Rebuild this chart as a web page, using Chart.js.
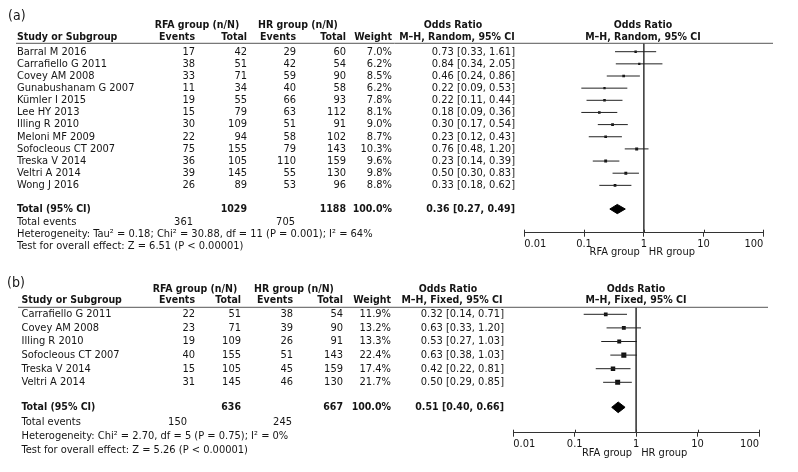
<!DOCTYPE html>
<html><head><meta charset="utf-8">
<script src="https://cdn.jsdelivr.net/npm/chart.js@4.4.1/dist/chart.umd.min.js"></script>
<style>
html,body{margin:0;padding:0;background:#fff;}
#wrap{position:relative;width:798px;height:472px;background:#fff;}
canvas{position:absolute;left:0;top:0;}
</style></head><body>
<div id="wrap"><canvas id="ca" width="798" height="472"></canvas><canvas id="cb" width="798" height="472"></canvas></div>
<script>
// ---------- DATA ----------
const tickVals = [0.01, 0.1, 1, 10, 100];
const tickLabels = ["0.01", "0.1", "1", "10", "100"];

// Panel (a)
const studiesA = ["Barral M 2016","Carrafiello G 2011","Covey AM 2008","Gunabushanam G 2007","Kümler I 2015","Lee HY 2013","Illing R 2010","Meloni MF 2009","Sofocleous CT 2007","Treska V 2014","Veltri A 2014","Wong J 2016"];
const rfaEventsA = [17,38,33,11,19,15,30,22,75,36,39,26];
const rfaTotalA  = [42,51,71,34,55,79,109,94,155,105,145,89];
const hrEventsA  = [29,42,59,40,66,63,51,58,79,110,55,53];
const hrTotalA   = [60,54,90,58,93,112,91,102,143,159,130,96];
const weightA    = [7.0,6.2,8.5,6.2,7.8,8.1,9.0,8.7,10.3,9.6,9.8,8.8];
const orA        = [0.73,0.84,0.46,0.22,0.22,0.18,0.30,0.23,0.76,0.23,0.50,0.33];
const loA        = [0.33,0.34,0.24,0.09,0.11,0.09,0.17,0.12,0.48,0.14,0.30,0.18];
const hiA        = [1.61,2.05,0.86,0.53,0.44,0.36,0.54,0.43,1.20,0.39,0.83,0.62];
const totalA     = {rfaN:1029, hrN:1188, rfaEv:361, hrEv:705, or:0.36, lo:0.27, hi:0.49};
const hetA  = "Heterogeneity: Tau² = 0.18; Chi² = 30.88, df = 11 (P = 0.001); I² = 64%";
const testA = "Test for overall effect: Z = 6.51 (P < 0.00001)";

// Panel (b)
const studiesB = ["Carrafiello G 2011","Covey AM 2008","Illing R 2010","Sofocleous CT 2007","Treska V 2014","Veltri A 2014"];
const rfaEventsB = [22,23,19,40,15,31];
const rfaTotalB  = [51,71,109,155,105,145];
const hrEventsB  = [38,39,26,51,45,46];
const hrTotalB   = [54,90,91,143,159,130];
const weightB    = [11.9,13.2,13.3,22.4,17.4,21.7];
const orB        = [0.32,0.63,0.53,0.63,0.42,0.50];
const loB        = [0.14,0.33,0.27,0.38,0.22,0.29];
const hiB        = [0.71,1.20,1.03,1.03,0.81,0.85];
const totalB     = {rfaN:636, hrN:667, rfaEv:150, hrEv:245, or:0.51, lo:0.40, hi:0.66};
const hetB  = "Heterogeneity: Chi² = 2.70, df = 5 (P = 0.75); I² = 0%";
const testB = "Test for overall effect: Z = 5.26 (P < 0.00001)";

// ---------- STYLE / LAYOUT ----------
const FONT = '"DejaVu Sans Condensed", "DejaVu Sans", sans-serif';
const FS = 11, FSB = 10.5;
const TEXT = '#151515';
const LINE = '#333';

const D_A = {studies:studiesA, rfaEv:rfaEventsA, rfaN:rfaTotalA, hrEv:hrEventsA, hrN:hrTotalA, w:weightA, or:orA, lo:loA, hi:hiA, tot:totalA, het:hetA, test:testA};
const D_B = {studies:studiesB, rfaEv:rfaEventsB, rfaN:rfaTotalB, hrEv:hrEventsB, hrN:hrTotalB, w:weightB, or:orB, lo:loB, hi:hiB, tot:totalB, het:hetB, test:testB};

const P_A = {tag:'(a)', tagX:8, tagY:16.5, h1Y:25, h2Y:37.7, lineY:43.3, axisY:232.7, plotL:524.3, plotR:763.3,
  row0:51.7, step:12.15, totalRow:12.95, nameX:17, colEv1:195, colTot1:247, colEv2:296, colTot2:346, colW:392, colOR:515,
  orHdr1X:453, orHdr2X:457, plotHdrX:643, lineL:16, lineR:773, rfaHdrX:197, hrHdrX:298, method:'Random',
  totEvRfaX:193, totEvHrX:295, dEv:12.7, dHet:24.7, dTest:36.7, groupLblY:251.7, sqK:0.92, diaH:0.38};
const P_B = {tag:'(b)', tagX:7, tagY:283, h1Y:289, h2Y:300.7, lineY:307.3, axisY:432.7, plotL:513.3, plotR:759,
  row0:314.3, step:13.6, totalRow:6.84, nameX:21.5, colEv1:195, colTot1:241, colEv2:293, colTot2:343, colW:391, colOR:504,
  orHdr1X:448, orHdr2X:452, plotHdrX:636, lineL:18, lineR:768, rfaHdrX:195, hrHdrX:294, method:'Fixed',
  totEvRfaX:187, totEvHrX:292, dEv:14.4, dHet:28.7, dTest:42.7, groupLblY:453, sqK:1.07, diaH:0.39};

function ci(o, l, h) { return o.toFixed(2) + ' [' + l.toFixed(2) + ', ' + h.toFixed(2) + ']'; }

function textPlugin(P, D) {
  return {
    id: 'txt' + P.method,
    afterDraw(chart) {
      const ctx = chart.ctx, ys = chart.scales.y, xs = chart.scales.x;
      ctx.save();
      ctx.fillStyle = TEXT;
      ctx.textBaseline = 'middle';
      const T = (s, px, py, al, bold, size) => {
        ctx.font = (bold ? 'bold ' : '') + (size || (bold ? FSB : FS)) + 'px ' + FONT;
        ctx.textAlign = al; ctx.fillText(String(s), px, py);
      };
      T(P.tag, P.tagX, P.tagY, 'left', false, 14);
      T('RFA group (n/N)', P.rfaHdrX, P.h1Y, 'center', true);
      T('HR group (n/N)', P.hrHdrX, P.h1Y, 'center', true);
      T('Odds Ratio', P.orHdr1X, P.h1Y, 'center', true);
      T('Odds Ratio', P.plotHdrX, P.h1Y, 'center', true);
      T('Study or Subgroup', P.nameX, P.h2Y, 'left', true);
      T('Events', P.colEv1, P.h2Y, 'right', true);
      T('Total', P.colTot1, P.h2Y, 'right', true);
      T('Events', P.colEv2, P.h2Y, 'right', true);
      T('Total', P.colTot2, P.h2Y, 'right', true);
      T('Weight', P.colW, P.h2Y, 'right', true);
      T('M\u2013H, ' + P.method + ', 95% CI', P.orHdr2X, P.h2Y, 'center', true);
      T('M\u2013H, ' + P.method + ', 95% CI', P.plotHdrX, P.h2Y, 'center', true);
      // header rule
      ctx.strokeStyle = '#555'; ctx.lineWidth = 1;
      ctx.beginPath(); ctx.moveTo(P.lineL, P.lineY); ctx.lineTo(P.lineR, P.lineY); ctx.stroke();
      // study rows
      D.studies.forEach((s, i) => {
        const py = ys.getPixelForValue(i);
        T(s, P.nameX, py, 'left');
        T(D.rfaEv[i], P.colEv1, py, 'right');
        T(D.rfaN[i], P.colTot1, py, 'right');
        T(D.hrEv[i], P.colEv2, py, 'right');
        T(D.hrN[i], P.colTot2, py, 'right');
        T(D.w[i].toFixed(1) + '%', P.colW, py, 'right');
        T(ci(D.or[i], D.lo[i], D.hi[i]), P.colOR, py, 'right');
      });
      const ty = ys.getPixelForValue(P.totalRow);
      T('Total (95% CI)', P.nameX, ty, 'left', true);
      T(D.tot.rfaN, P.colTot1, ty, 'right', true);
      T(D.tot.hrN, P.colTot2, ty, 'right', true);
      T('100.0%', P.colW, ty, 'right', true);
      T(ci(D.tot.or, D.tot.lo, D.tot.hi), P.colOR, ty, 'right', true);
      T('Total events', P.nameX, ty + P.dEv, 'left');
      T(D.tot.rfaEv, P.totEvRfaX, ty + P.dEv, 'right');
      T(D.tot.hrEv, P.totEvHrX, ty + P.dEv, 'right');
      T(D.het, P.nameX, ty + P.dHet, 'left');
      T(D.test, P.nameX, ty + P.dTest, 'left');
      const x1 = xs.getPixelForValue(1);
      T('RFA group', x1 - 4, P.groupLblY, 'right');
      T('HR group', x1 + 5, P.groupLblY, 'left');
      // upward half of tick marks
      ctx.strokeStyle = LINE; ctx.lineWidth = 1;
      const ab = chart.chartArea.bottom;
      tickVals.forEach(v => {
        const px = Math.round(xs.getPixelForValue(v)) + 0.5;
        ctx.beginPath(); ctx.moveTo(px, ab - 3); ctx.lineTo(px, ab); ctx.stroke();
      });
      ctx.restore();
    }
  };
}

function makePanel(id, P, D) {
  const yMin = (P.lineY - P.row0) / P.step;
  const yMax = (P.axisY - P.row0) / P.step;
  const datasets = [];
  // CI lines
  D.studies.forEach((s, i) => {
    datasets.push({data: [{x: D.lo[i], y: i}, {x: D.hi[i], y: i}], showLine: true, borderColor: '#222', borderWidth: 1, pointRadius: 0, fill: false});
  });
  // squares
  datasets.push({data: D.or.map((v, i) => ({x: v, y: i})), pointStyle: 'rect',
    pointRadius: D.w.map(w => P.sqK * Math.sqrt(w) / Math.SQRT2), pointBorderWidth: 0,
    pointBackgroundColor: '#111', borderColor: '#111', showLine: false});
  // diamond
  const t = D.tot, r = P.totalRow, h = P.diaH;
  datasets.push({data: [{x: t.lo, y: r}, {x: t.or, y: r - h}, {x: t.hi, y: r}, {x: t.or, y: r + h}, {x: t.lo, y: r}],
    showLine: true, fill: 'shape', backgroundColor: '#000', borderColor: '#000', borderWidth: 1, pointRadius: 0, tension: 0});
  // line of no effect
  datasets.push({data: [{x: 1, y: yMin}, {x: 1, y: yMax}], showLine: true, borderColor: '#444', borderWidth: 1, pointRadius: 0, fill: false});

  return new Chart(document.getElementById(id), {
    type: 'scatter',
    data: {datasets},
    options: {
      responsive: false, animation: false, events: [],
      layout: {padding: {left: P.plotL, right: 798 - P.plotR, top: P.lineY, bottom: 472 - P.axisY - 20}},
      plugins: {legend: {display: false}, tooltip: {enabled: false}, title: {display: false}},
      scales: {
        x: {type: 'logarithmic', min: 0.01, max: 100, position: 'bottom',
          afterBuildTicks: s => { s.ticks = tickVals.map(v => ({value: v})); },
          afterFit: s => { s.height = 20; },
          ticks: {callback: v => tickLabels[tickVals.indexOf(v)], align: 'inner', autoSkip: false, maxRotation: 0, minRotation: 0,
            padding: 1, color: TEXT, font: {family: FONT, size: FS}},
          grid: {drawOnChartArea: false, drawTicks: true, tickLength: 4, color: LINE, lineWidth: 1},
          border: {display: true, color: LINE, width: 1}
        },
        y: {type: 'linear', min: yMin, max: yMax, reverse: true, display: false}
      }
    },
    plugins: [textPlugin(P, D)]
  });
}

makePanel('ca', P_A, D_A);
makePanel('cb', P_B, D_B);
</script>
</body></html>
